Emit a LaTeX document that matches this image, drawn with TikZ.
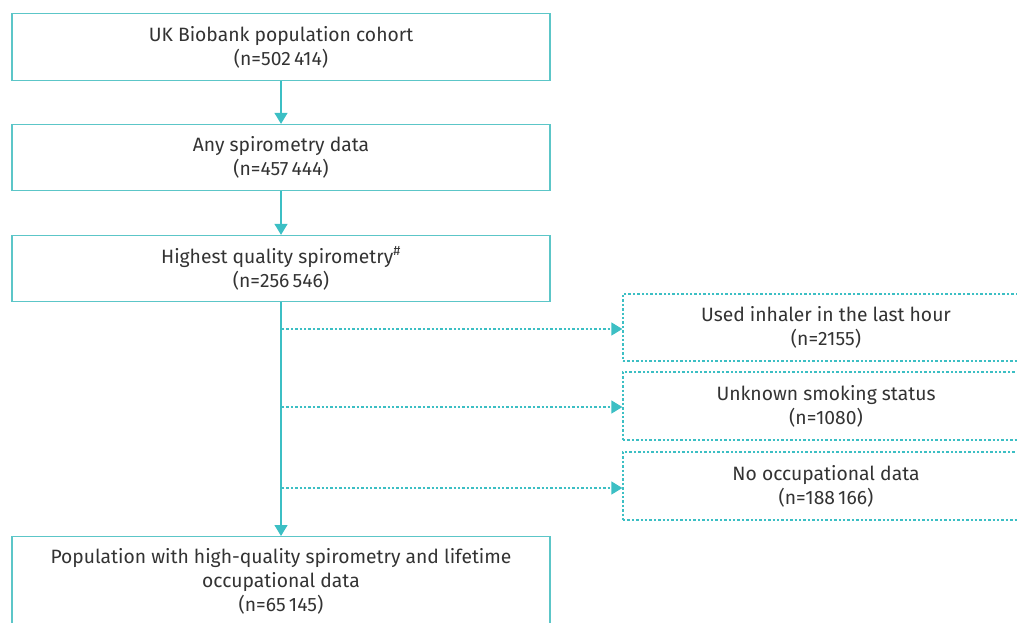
\documentclass[tikz,border=0pt]{standalone}
\usepackage{fontspec}
\setmainfont{Fira Sans}
\usetikzlibrary{arrows.meta}
\definecolor{teal1}{HTML}{3CBFC4}
\definecolor{tealbox}{HTML}{5CC6C8}
\definecolor{txt}{HTML}{333333}
\begin{document}
\begin{tikzpicture}[x=1pt,y=-1pt,
  mainbox/.style={draw=tealbox,line width=1.3pt,minimum width=538pt,inner sep=0pt,align=center,text=txt,font=\fontsize{19.3}{24}\selectfont},
  sidebox/.style={draw=teal1,line width=1.3pt,dash pattern=on 2.4pt off 2pt,minimum width=406pt,inner sep=0pt,align=center,text=txt,font=\fontsize{19.3}{24}\selectfont},
  flow/.style={draw=teal1,line width=1.3pt,-{Triangle[length=11pt,width=13pt]}},
  side/.style={draw=teal1,line width=1.3pt,dash pattern=on 2.4pt off 2pt,-{Triangle[length=11pt,width=13pt]}}]
\useasboundingbox (0,0) rectangle (1017,623);
\clip (0,0) rectangle (1017,623);
\node[mainbox,minimum height=67pt] (b1) at (281,47) {UK Biobank population cohort\\(n=502\,414)};
\node[mainbox,minimum height=66pt] (b2) at (281,157.5) {Any spirometry data\\(n=457\,444)};
\node[mainbox,minimum height=66pt] (b3) at (281,268.5) {Highest quality spirometry\textsuperscript{\#}\\(n=256\,546)};
\node[mainbox,minimum height=96pt,anchor=north] (b4) at (281,536) {\\[-15pt]Population with high-quality spirometry and lifetime\\occupational data\\(n=65\,145)};
\node[sidebox,minimum height=67pt] (s1) at (826,327.5) {Used inhaler in the last hour\\(n=2155)};
\node[sidebox,minimum height=68pt] (s2) at (826,406) {Unknown smoking status\\(n=1080)};
\node[sidebox,minimum height=68pt] (s3) at (826,486) {No occupational data\\(n=188\,166)};
\draw[flow] (b1.south) -- (b2.north);
\draw[flow] (b2.south) -- (b3.north);
\draw[flow] (b3.south) -- (b4.north);
\coordinate (j1) at (282,329);
\coordinate (j2) at (282,407);
\coordinate (j3) at (282,488);
\draw[side] (j1) -- (j1 -| s1.west);
\draw[side] (j2) -- (j2 -| s2.west);
\draw[side] (j3) -- (j3 -| s3.west);
\end{tikzpicture}
\end{document}
